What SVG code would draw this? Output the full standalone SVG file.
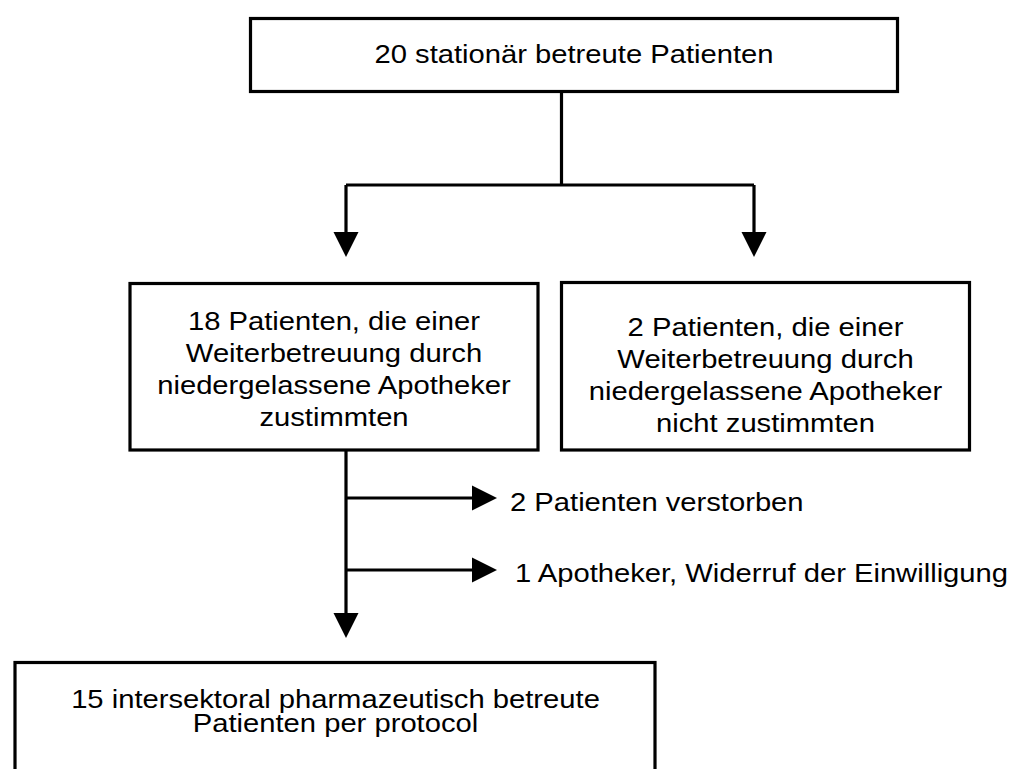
<svg xmlns="http://www.w3.org/2000/svg" width="1014" height="769" viewBox="0 0 1014 769">
  <defs>
    <style>
      .box { fill: #ffffff; stroke: #000000; stroke-width: 3.2; }
      .wire { fill: none; stroke: #000000; stroke-width: 3.2; }
      .head { fill: #000000; stroke: none; }
      .lbl { font-family: "Liberation Sans", Arial, sans-serif; font-size: 26px; fill: #000000; }
      .mid { text-anchor: middle; }
    </style>
  </defs>
  <rect width="1014" height="769" fill="#ffffff"/>

  <!-- connectors -->
  <g id="connectors">
    <path class="wire" d="M561.5 91.5 V185 M346 185 H754 M346 185 V234 M754 185 V234"/>
    <polygon class="head" points="333.5,232 358.5,232 346,257"/>
    <polygon class="head" points="741.5,232 766.5,232 754,257"/>
    <path class="wire" d="M346 450 V615 M346 498 H474 M346 570 H474"/>
    <polygon class="head" points="333.5,613 358.5,613 346,638"/>
    <polygon class="head" points="472,485.5 472,510.5 497,498"/>
    <polygon class="head" points="472,557.5 472,582.5 497,570"/>
    <g class="lbl">
      <text transform="translate(510 510.5) scale(1.123 1)">2 Patienten verstorben</text>
      <text transform="translate(515 581.5) scale(1.123 1)">1 Apotheker, Widerruf der Einwilligung</text>
    </g>
  </g>

  <!-- nodes -->
  <g id="node-total">
    <rect class="box" x="250.5" y="18.5" width="647" height="73"/>
    <text class="lbl mid" transform="translate(574 63.3) scale(1.123 1)">20 stationär betreute Patienten</text>
  </g>

  <g id="node-consent">
    <rect class="box" x="130" y="283.5" width="408" height="166.5"/>
    <g class="lbl mid">
      <text transform="translate(334 329.5) scale(1.123 1)">18 Patienten, die einer</text>
      <text transform="translate(334 361.8) scale(1.123 1)">Weiterbetreuung durch</text>
      <text transform="translate(334 394) scale(1.123 1)">niedergelassene Apotheker</text>
      <text transform="translate(334 426.3) scale(1.123 1)">zustimmten</text>
    </g>
  </g>

  <g id="node-no-consent">
    <rect class="box" x="561.5" y="282.5" width="408" height="167.5"/>
    <g class="lbl mid">
      <text transform="translate(765.5 336) scale(1.123 1)">2 Patienten, die einer</text>
      <text transform="translate(765.5 368) scale(1.123 1)">Weiterbetreuung durch</text>
      <text transform="translate(765.5 400) scale(1.123 1)">niedergelassene Apotheker</text>
      <text transform="translate(765.5 431.7) scale(1.123 1)">nicht zustimmten</text>
    </g>
  </g>

  <g id="node-per-protocol">
    <rect class="box" x="15" y="662.5" width="640" height="130"/>
    <g class="lbl mid">
      <text transform="translate(335.5 708.3) scale(1.123 1)">15 intersektoral pharmazeutisch betreute</text>
      <text transform="translate(335.5 731.7) scale(1.123 1)">Patienten per protocol</text>
    </g>
  </g>
</svg>
